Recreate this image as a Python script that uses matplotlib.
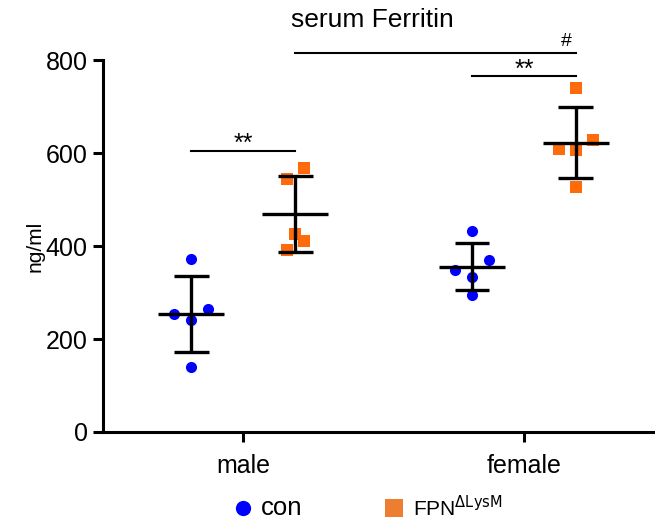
import numpy as np
import matplotlib.pyplot as plt

plt.rcParams['font.family'] = ['Liberation Sans', 'DejaVu Sans']

# ----------- DATA ------------
groups = ['male', 'female']
series = ['con', r'FPN$^{\Delta\mathrm{LysM}}$']
con_male = [372, 254, 264, 241, 140]
con_female = [432, 370, 348, 333, 295]
fpn_male = [568, 544, 426, 411, 391]
fpn_female = [740, 628, 609, 606, 527]
# x jitter inside each group (in units of group spacing)
con_male_jitter = [0.0, -0.06, 0.06, 0.0, 0.0]
con_female_jitter = [0.0, 0.06, -0.06, 0.0, 0.0]
fpn_male_jitter = [0.03, -0.03, 0.0, 0.03, -0.03]
fpn_female_jitter = [0.0, 0.06, -0.06, 0.0, 0.0]
# -----------------------------

BLUE = '#0000ff'
ORANGE = '#ff6a0a'
OFFSET = 0.185

fig = plt.figure(figsize=(6.55, 5.23), dpi=100)
ax = fig.add_axes([0.157, 0.174, 0.84, 0.711])

def draw_group(x, vals, jitter, color, marker, ms):
    vals = np.array(vals)
    xs = x + np.array(jitter)
    ax.plot(xs, vals, linestyle='none', marker=marker, color=color,
            markersize=ms, markeredgewidth=0, zorder=2)
    m = vals.mean()
    sd = vals.std(ddof=1)
    ax.vlines(x, m - sd, m + sd, color='black', lw=2.4, zorder=3)
    ax.hlines([m - sd, m + sd], x - 0.062, x + 0.062, color='black', lw=2.4, zorder=3)
    ax.hlines(m, x - 0.118, x + 0.118, color='black', lw=2.4, zorder=3)

draw_group(0 - OFFSET, con_male, con_male_jitter, BLUE, 'o', 8)
draw_group(0 + OFFSET, fpn_male, fpn_male_jitter, ORANGE, 's', 8)
draw_group(1 - OFFSET, con_female, con_female_jitter, BLUE, 'o', 8)
draw_group(1 + OFFSET, fpn_female, fpn_female_jitter, ORANGE, 's', 8)

# significance bars
def sig(x1, x2, y, text, tx=None, size=18, dy=0):
    ax.plot([x1, x2], [y, y], color='black', lw=1.5, clip_on=False)
    if tx is None:
        tx = (x1 + x2) / 2
    ax.text(tx, y + dy, text, ha='center', va='baseline', fontsize=size, clip_on=False)

sig(-OFFSET, OFFSET, 605, '**')
sig(1 - OFFSET, 1 + OFFSET, 765, '**')
sig(OFFSET, 1 + OFFSET, 815, '#', tx=1 + OFFSET - 0.035, size=14, dy=15)

ax.set_xlim(-0.5, 1.46)
ax.set_ylim(0, 800)
ax.set_xticks([0, 1])
ax.set_xticklabels(groups)
ax.set_yticks([0, 200, 400, 600, 800])
ax.tick_params(axis='both', labelsize=18, width=2.2, length=7)
ax.tick_params(axis='x', pad=9)
ax.tick_params(axis='y', pad=4)
ax.set_ylabel('ng/ml', fontsize=15, labelpad=1)
for s in ['top', 'right']:
    ax.spines[s].set_visible(False)
for s in ['left', 'bottom']:
    ax.spines[s].set_linewidth(2.2)

fig.text(0.568, 0.962, 'serum Ferritin', ha='center', va='center', fontsize=19)

# legend drawn by hand below the axes
leg_y = 1 - 508 / 523
fig.add_artist(plt.Line2D([243 / 655], [leg_y], linestyle='none', marker='o', color=BLUE,
                          markersize=11, markeredgewidth=0, transform=fig.transFigure))
fig.text(261 / 655, leg_y, series[0], ha='left', va='center', fontsize=18.5)
fig.add_artist(plt.Line2D([394 / 655], [leg_y], linestyle='none', marker='s', color='#ed7d31',
                          markersize=12.5, markeredgewidth=0, transform=fig.transFigure))
fig.text(413 / 655, leg_y, series[1], ha='left', va='center', fontsize=15)

fig.savefig('out.png', dpi=100)
